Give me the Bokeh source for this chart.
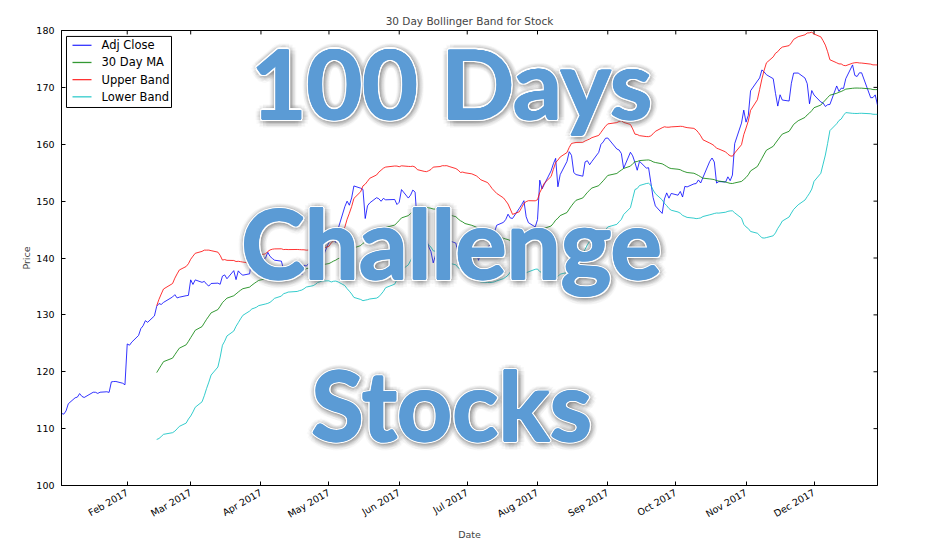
import math
import pandas as pd
from bokeh.plotting import figure
from bokeh.models import (Range1d, MonthsTicker, SingleIntervalTicker,
                          DatetimeTickFormatter, Label, BoxAnnotation, ColumnDataSource)
from bokeh.embed import file_html
from bokeh.resources import INLINE

# ---------------- data ----------------
first_day = "2017-01-03"
last_day = "2017-12-29"
market_holidays = ["2017-01-16", "2017-02-20", "2017-04-14", "2017-05-29",
                   "2017-07-04", "2017-09-04", "2017-11-23", "2017-12-25"]

adj_close = [
    # Jan
    112.67, 112.54, 113.11, 114.37, 115.42, 115.54, 116.16, 115.67, 115.47, 116.40,
    116.39, 116.19, 116.40, 116.48, 116.37, 118.22, 118.28, 118.29, 117.98, 117.71,
    # Feb
    124.89, 124.67, 125.21, 126.38, 127.58, 128.08, 128.98, 128.69, 129.82, 131.51,
    131.99, 131.83, 132.19, 133.15, 133.55, 132.98, 133.11, 133.37, 133.43,
    # Mar
    136.16, 135.35, 136.15, 135.72, 135.89, 135.39, 135.07, 135.52, 135.58, 135.38,
    136.81, 137.03, 136.35, 137.78, 136.20, 137.74, 137.26, 136.98, 137.22, 140.06,
    140.37, 140.19, 139.92,
    # Apr
    139.96, 141.01, 140.28, 139.92, 139.61, 139.45, 137.95, 138.11, 137.38, 138.14,
    137.53, 137.02, 138.74, 138.57, 139.90, 140.77, 139.94, 140.05, 139.91,
    # May
    142.77, 143.67, 143.24, 142.72, 145.09, 149.03, 149.99, 149.28, 150.56, 152.67,
    152.27, 152.05, 146.94, 149.18, 149.69, 150.60, 150.42, 149.97, 150.48, 150.23,
    150.29, 149.40,
    # Jun
    149.81, 152.03, 150.54, 151.05, 151.95, 151.58, 145.70, 142.22, 143.37, 141.97,
    141.12, 139.14, 143.12, 141.82, 142.66, 142.43, 143.06, 142.61, 140.57, 142.62,
    140.52, 140.85,
    # Jul
    140.34, 140.92, 139.59, 141.01, 141.87, 142.33, 142.53, 144.52, 145.76, 146.27,
    146.78, 147.70, 147.03, 146.96, 148.74, 149.38, 150.08, 147.25, 146.21, 145.46,
    # Aug
    146.75, 153.68, 152.15, 152.95, 155.32, 156.56, 157.52, 152.52, 154.65, 156.97,
    158.69, 158.05, 155.02, 154.67, 154.38, 156.90, 157.10, 156.40, 156.98, 158.56,
    159.98, 160.41, 161.05,
    # Sep
    161.10, 159.16, 158.99, 158.36, 155.77, 158.59, 157.96, 156.78, 155.43, 157.00,
    155.81, 155.87, 153.26, 150.63, 149.16, 147.84, 150.38, 151.45, 150.52, 151.35,
    # Oct
    151.04, 151.70, 150.72, 152.59, 152.50, 153.03, 153.09, 153.73, 153.19, 154.16,
    157.00, 157.58, 156.88, 153.17, 153.44, 153.36, 154.27, 153.59, 154.58, 160.11,
    163.72, 166.00,
    # Nov
    163.89, 165.08, 169.40, 171.11, 171.66, 173.07, 172.71, 172.22, 171.53, 168.94,
    166.71, 168.70, 167.77, 167.60, 170.72, 172.51, 172.52, 171.65, 170.65, 167.11,
    169.44,
    # Dec
    168.66, 167.42, 167.26, 166.64, 166.95, 167.00, 170.25, 169.30, 169.86, 169.81,
    171.53, 173.95, 172.10, 171.91, 172.56, 172.56, 168.18, 168.21, 168.68, 166.86,
]

window = 30
series_names = ["Adj Close", "30 Day MA", "Upper Band", "Lower Band"]
y_ticks_interval = 10
title_text = "30 Day Bollinger Band for Stock"
overlay_lines = ["100 Days", "Challenge", "Stocks"]

# ---------------- derived (Bollinger band) ----------------
dates = pd.bdate_range(first_day, last_day)
dates = dates[~dates.isin(pd.to_datetime(market_holidays))]
close = pd.Series(adj_close, index=dates)
ma = close.rolling(window).mean()
sd = close.rolling(window).std()
upper = ma + 2 * sd
lower = ma - 2 * sd

src = ColumnDataSource(dict(date=dates, close=close.values, ma=ma.values,
                            upper=upper.values, lower=lower.values))

# ---------------- figure ----------------
X0 = pd.Timestamp(first_day)
X1 = pd.Timestamp(last_day)
Y0, Y1 = 100, 180
W, H = 929, 543
FL, FT, FW, FH = 61, 30, 816, 461  # frame in figure pixels
TICK = 4

def px_x(px):
    return (X0 + (X1 - X0) * ((px - FL) / FW)).value / 1e6

def px_y(py):
    return Y1 - (py - FT) / FH * (Y1 - Y0)

FONT = "DejaVu Sans"

p = figure(width=W, height=H, x_axis_type="datetime",
           x_range=Range1d(X0, X1), y_range=Range1d(Y0, Y1),
           output_backend="svg", toolbar_location=None,
           min_border_left=FL, min_border_right=W - FL - FW,
           min_border_top=FT, min_border_bottom=H - FT - FH,
           title=title_text)
p.background_fill_color = "white"
p.border_fill_color = "white"
p.outline_line_color = "black"
p.outline_line_width = 1
p.outline_line_alpha = 1
p.grid.visible = False

p.title.align = "center"
p.title.text_font = FONT
p.title.text_font_size = "10.5px"
p.title.text_font_style = "normal"
p.title.standoff = 7

month_ticker = MonthsTicker(months=list(range(12)))
fmt = DatetimeTickFormatter(months="%b %Y", days="%b %Y", years="%b %Y")

xa = p.xaxis[0]
xa.ticker = month_ticker
xa.formatter = fmt
xa.major_label_orientation = math.pi / 6
xa.major_label_text_font = FONT
xa.major_label_text_font_size = "9.5px"
xa.major_label_text_color = "black"
xa.major_label_standoff = 6
xa.axis_label = "Date"
xa.axis_label_text_font = FONT
xa.axis_label_text_font_size = "9.5px"
xa.axis_label_text_font_style = "normal"
xa.axis_label_standoff = 2

ya = p.yaxis[0]
ya.ticker = SingleIntervalTicker(interval=y_ticks_interval)
ya.axis_label = "Price"
ya.axis_label_text_font = FONT
ya.axis_label_text_font_size = "9.5px"
ya.axis_label_text_font_style = "normal"
ya.axis_label_standoff = 1
ya.major_label_text_font = FONT
ya.major_label_text_font_size = "9.5px"
ya.major_label_text_color = "black"
ya.major_label_standoff = 3

for ax in (xa, ya):
    ax.major_tick_in = TICK
    ax.major_tick_out = 0
    ax.minor_tick_line_color = None
    ax.axis_line_color = "black"
    ax.major_tick_line_color = "black"

# mirrored inward ticks on the top and right frame edges (matplotlib classic look)
month_starts = pd.date_range(X0, X1, freq="MS")
y_tick_vals = list(range(Y0, Y1 + 1, y_ticks_interval))
dy_tick = TICK * (Y1 - Y0) / FH
dx_tick = (X1 - X0) * (TICK / FW)
p.segment(x0=list(month_starts), y0=[Y1] * len(month_starts),
          x1=list(month_starts), y1=[Y1 - dy_tick] * len(month_starts),
          line_color="black", line_width=1)
p.segment(x0=[X1 - dx_tick] * len(y_tick_vals), y0=y_tick_vals,
          x1=[X1] * len(y_tick_vals), y1=y_tick_vals,
          line_color="black", line_width=1)

colors = ["#0000ff", "#008000", "#ff0000", "#00bfbf"]
cols = ["close", "ma", "upper", "lower"]
for c, col in zip(colors, cols):
    p.line("date", col, source=src, line_color=c, line_alpha=0.8, line_width=1)

# ---------------- legend (drawn by hand, top-left inside the frame) ----------------
LG_L, LG_T, LG_R, LG_B = 66, 36, 171, 108
p.add_layout(BoxAnnotation(left=px_x(LG_L), right=px_x(LG_R), top=px_y(LG_T), bottom=px_y(LG_B),
                           fill_color="white", fill_alpha=1, line_color="black",
                           line_width=1, line_alpha=1))
row_y = [45.0, 62.4, 79.8, 97.2]
p.segment(x0=[px_x(72)] * 4, x1=[px_x(91)] * 4,
          y0=[px_y(v) for v in row_y], y1=[px_y(v) for v in row_y],
          line_color=colors, line_alpha=0.8, line_width=1.3, level="overlay")
for name, yy in zip(series_names, row_y):
    p.add_layout(Label(x=px_x(101), y=px_y(yy), text=name, text_font=FONT,
                       text_font_size="11.5px", text_color="black",
                       text_align="left", text_baseline="middle"))

# ---------------- overlay text ----------------
cx = px_x(451)
BASELINE_FIX = 38          # Bokeh's alphabetic baseline lands lower than asked
baselines = [120, 282, 446]
OVER_FONT = "Lato"
OVER_SIZE = "96px"
for txt, bl in zip(overlay_lines, baselines):
    y = px_y(bl - BASELINE_FIX)
    common = dict(x=cx, y=y, text=txt, text_font=OVER_FONT, text_font_size=OVER_SIZE,
                  text_font_style="bold", text_align="center", text_baseline="alphabetic")
    for r in (3.0, 4.5, 6.0, 7.5):
        for k in range(12):
            a = 2 * math.pi * k / 12
            p.add_layout(Label(x_offset=r * math.cos(a) + 1, y_offset=r * math.sin(a) - 1,
                               text_color="#707070", text_alpha=0.04, **common))
    for k in range(10):
        a = 2 * math.pi * k / 10
        p.add_layout(Label(x_offset=2.2 * math.cos(a), y_offset=2.2 * math.sin(a),
                           text_color="white", text_alpha=1, **common))
    for k in range(6):
        a = 2 * math.pi * k / 6
        p.add_layout(Label(x_offset=0.9 * math.cos(a), y_offset=0.9 * math.sin(a),
                           text_color="#5b9bd5", text_alpha=1, **common))
    p.add_layout(Label(text_color="#5b9bd5", text_alpha=1, **common))

open("out.html", "w").write(file_html(p, INLINE))
